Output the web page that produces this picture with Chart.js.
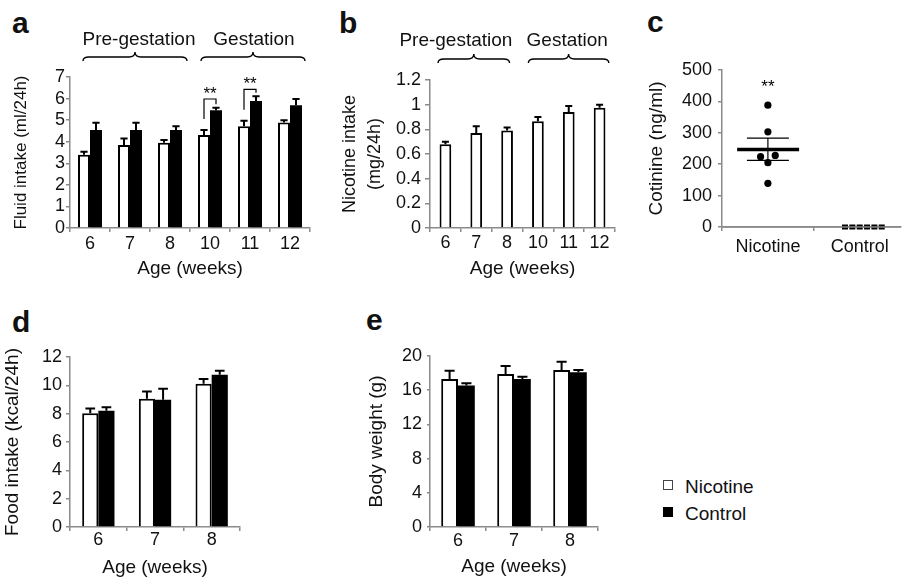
<!DOCTYPE html>
<html>
<head>
<meta charset="utf-8">
<script src="https://cdn.jsdelivr.net/npm/chart.js@4.4.1/dist/chart.umd.min.js"></script>
<style>
  body { margin: 0; background: #fff; width: 910px; height: 583px; position: relative; overflow: hidden;
         font-family: 'Liberation Sans', Arial, sans-serif; color: #111; }
  canvas { position: absolute; }
  .lab { position: absolute; font-weight: bold; font-size: 30px; line-height: 30px; }
  .leg { position: absolute; font-size: 19px; line-height: 19px; }
  .sw { position: absolute; width: 10px; height: 10px; box-sizing: border-box; border: 1px solid #444; }
</style>
</head>
<body>
<div class="lab" style="left:12px;top:8px">a</div>
<div class="lab" style="left:339px;top:8px">b</div>
<div class="lab" style="left:647px;top:7px">c</div>
<div class="lab" style="left:12px;top:307px">d</div>
<div class="lab" style="left:366px;top:305px">e</div>

<canvas id="cA" width="320" height="290" style="left:0;top:0"></canvas>
<canvas id="cB" width="290" height="290" style="left:330px;top:0"></canvas>
<canvas id="cC" width="280" height="290" style="left:630px;top:0"></canvas>
<canvas id="cD" width="250" height="293" style="left:0;top:290px"></canvas>
<canvas id="cE" width="280" height="293" style="left:330px;top:290px"></canvas>

<div class="sw" style="left:663px;top:480px;background:#fff"></div>
<div class="leg" style="left:685px;top:477px">Nicotine</div>
<div class="sw" style="left:663px;top:507px;background:#000;border-color:#000"></div>
<div class="leg" style="left:685px;top:504px">Control</div>

<script>
// ---- data ----
const weeks = ['6', '7', '8', '10', '11', '12'];
const weeksShort = ['6', '7', '8'];
const phases = ['Pre-gestation', 'Gestation'];

// a: fluid intake (ml/24h)
const fluidNic = [3.4, 3.85, 3.95, 4.31, 4.72, 4.89];
const fluidNicErr = [3.53, 4.15, 4.08, 4.54, 4.97, 5.0];
const fluidCon = [4.54, 4.54, 4.54, 5.46, 5.89, 5.69];
const fluidConErr = [4.88, 4.88, 4.72, 5.58, 6.11, 5.98];
const fluidSigIdx = [3, 4];
const fluidSigY = [5.98, 6.43];

// b: nicotine intake (mg/24h)
const nicIntake = [0.68, 0.77, 0.79, 0.865, 0.94, 0.975];
const nicIntakeErr = [0.70, 0.825, 0.815, 0.90, 0.99, 1.0];

// c: cotinine (ng/ml)
const cotGroups = ['Nicotine', 'Control'];
const cotNic = [388, 303, 224, 228, 205, 139];
const cotNicX = [1, 1, 0.92, 1.08, 1, 1];
const cotCon = [0, 0, 0, 0, 0, 0];
const cotConX = [1.84, 1.92, 2.0, 2.08, 2.16, 2.24];
const cotMean = 247;
const cotSemLo = 212;
const cotSemHi = 283;
const cotSigY = 462;

// d: food intake (kcal/24h)
const foodNic = [8.03, 9.05, 10.11];
const foodNicErr = [8.36, 9.57, 10.44];
const foodCon = [8.2, 8.98, 10.75];
const foodConErr = [8.46, 9.76, 11.03];

// e: body weight (g)
const bwNic = [17.3, 17.89, 18.36];
const bwNicErr = [18.28, 18.83, 19.34];
const bwCon = [16.56, 17.3, 18.09];
const bwConErr = [16.8, 17.58, 18.36];

// ---- style ----
const AX = '#8a8a8a';
const TXT = '#111';
Chart.defaults.font.family = "'Liberation Sans', Arial, sans-serif";
Chart.defaults.color = TXT;
Chart.defaults.animation = false;
Chart.defaults.plugins.legend.display = false;
Chart.defaults.plugins.tooltip.enabled = false;

function axes(o) {
  return {
    x: {
      grid: { drawOnChartArea: false, tickLength: 4, color: AX, lineWidth: 1.5 },
      border: { color: AX, width: 1.5 },
      ticks: { font: { size: 18, lineHeight: 1 }, color: TXT, padding: o.xPad, autoSkip: false, maxRotation: 0 },
      title: { display: !!o.xTitle, text: o.xTitle, font: { size: 19, lineHeight: 1.2 }, color: TXT,
               padding: { top: 0, bottom: o.xtPad } },
      afterFit: s => { s.height = o.xH; }
    },
    y: {
      min: 0, max: o.max,
      ticks: { stepSize: o.step, font: { size: 18 }, color: TXT, padding: o.yPad, autoSkip: false,
               callback: v => String(Math.round(v * 10) / 10) },
      grid: { drawOnChartArea: false, tickLength: o.yTick || 4, color: AX, lineWidth: 1.5 },
      border: { color: AX, width: 1.5 },
      title: { display: true, text: o.yTitle, font: { size: o.ytSize || 19, lineHeight: o.ytLh || 1.2 },
               color: TXT, padding: { top: o.ytPad, bottom: 0 } },
      afterFit: s => { s.width = o.yW; }
    }
  };
}

// one-sided error bars (upper) from dataset.errHi
const errorBars = {
  id: 'errorBars',
  afterDatasetsDraw(chart) {
    const { ctx } = chart;
    const y = chart.scales.y;
    chart.data.datasets.forEach((ds, i) => {
      if (!ds.errHi) return;
      chart.getDatasetMeta(i).data.forEach((bar, j) => {
        const top = y.getPixelForValue(ds.errHi[j]);
        const cap = bar.width * 0.3;
        ctx.save();
        ctx.strokeStyle = '#000';
        ctx.lineWidth = 2;
        ctx.beginPath();
        ctx.moveTo(bar.x, bar.y);
        ctx.lineTo(bar.x, top);
        ctx.moveTo(bar.x - cap, top);
        ctx.lineTo(bar.x + cap, top);
        ctx.stroke();
        ctx.restore();
      });
    });
  }
};

function drawBrace(ctx, x1, x2, y) {
  const xc = (x1 + x2) / 2, r = 6;
  ctx.beginPath();
  ctx.moveTo(x1, y + 4);
  ctx.quadraticCurveTo(x1, y, x1 + r, y);
  ctx.lineTo(xc - r, y);
  ctx.quadraticCurveTo(xc, y, xc, y - 5);
  ctx.quadraticCurveTo(xc, y, xc + r, y);
  ctx.lineTo(x2 - r, y);
  ctx.quadraticCurveTo(x2, y, x2, y + 4);
  ctx.stroke();
}

// braces with phase names above the bars; ranges in category units
function phasePlugin(ranges, textAt, braceY, textY) {
  return {
    id: 'phases',
    afterDraw(chart) {
      const { ctx } = chart;
      const x = chart.scales.x;
      ctx.save();
      ctx.strokeStyle = '#000';
      ctx.lineWidth = 1.4;
      ctx.fillStyle = TXT;
      ctx.font = "19px 'Liberation Sans', Arial, sans-serif";
      ctx.textAlign = 'center';
      ctx.textBaseline = 'alphabetic';
      phases.forEach((p, i) => {
        drawBrace(ctx, x.getPixelForValue(ranges[i][0]), x.getPixelForValue(ranges[i][1]), braceY);
        ctx.fillText(p, x.getPixelForValue(textAt[i]), textY);
      });
      ctx.restore();
    }
  };
}

// significance brackets for panel a
const sigPlugin = {
  id: 'sig',
  afterDatasetsDraw(chart) {
    const { ctx } = chart;
    const y = chart.scales.y;
    const m0 = chart.getDatasetMeta(0).data, m1 = chart.getDatasetMeta(1).data;
    ctx.save();
    ctx.strokeStyle = '#000';
    ctx.lineWidth = 1.2;
    ctx.fillStyle = '#000';
    ctx.font = "17px 'Liberation Sans', Arial, sans-serif";
    ctx.textAlign = 'center';
    fluidSigIdx.forEach((j, k) => {
      const xl = m0[j].x, xr = m1[j].x;
      const yt = y.getPixelForValue(fluidSigY[k]);
      const yl = y.getPixelForValue(fluidNicErr[j]) - 11;
      const yr = y.getPixelForValue(fluidConErr[j]) - 3.5;
      ctx.beginPath();
      ctx.moveTo(xl, yl); ctx.lineTo(xl, yt); ctx.lineTo(xr, yt); ctx.lineTo(xr, yr);
      ctx.stroke();
      ctx.fillText('**', (xl + xr) / 2, yt);
    });
    ctx.restore();
  }
};

// mean +/- SEM and stars for panel c
const meanSem = {
  id: 'meanSem',
  afterDatasetsDraw(chart) {
    const { ctx } = chart;
    const x = chart.scales.x, y = chart.scales.y;
    const xc = x.getPixelForValue(1);
    ctx.save();
    ctx.strokeStyle = '#000';
    ctx.lineWidth = 3.5;
    ctx.beginPath();
    ctx.moveTo(x.getPixelForValue(0.665), y.getPixelForValue(cotMean));
    ctx.lineTo(x.getPixelForValue(1.34), y.getPixelForValue(cotMean));
    ctx.stroke();
    ctx.lineWidth = 1.2;
    ctx.beginPath();
    ctx.moveTo(xc, y.getPixelForValue(cotSemLo));
    ctx.lineTo(xc, y.getPixelForValue(cotSemHi));
    [cotSemLo, cotSemHi].forEach(v => {
      ctx.moveTo(xc - 21, y.getPixelForValue(v));
      ctx.lineTo(xc + 21, y.getPixelForValue(v));
    });
    ctx.stroke();
    // axis line over the control dashes
    ctx.strokeStyle = AX;
    ctx.lineWidth = 1.5;
    ctx.beginPath();
    ctx.moveTo(chart.chartArea.left, y.getPixelForValue(0));
    ctx.lineTo(chart.chartArea.right, y.getPixelForValue(0));
    ctx.stroke();
    ctx.fillStyle = '#000';
    ctx.font = "17px 'Liberation Sans', Arial, sans-serif";
    ctx.textAlign = 'center';
    ctx.fillText('**', xc, y.getPixelForValue(cotSigY) + 10);
    ctx.restore();
  }
};

function pairBars(labels, nic, nicErr, con, conErr, catPct) {
  return {
    labels: labels,
    datasets: [
      { label: 'Nicotine', data: nic, errHi: nicErr, backgroundColor: '#fff', borderColor: '#000',
        borderWidth: 2, categoryPercentage: catPct, barPercentage: 1 },
      { label: 'Control', data: con, errHi: conErr, backgroundColor: '#000', borderColor: '#000',
        borderWidth: 0, categoryPercentage: catPct, barPercentage: 1 }
    ]
  };
}

// a
new Chart(document.getElementById('cA'), {
  type: 'bar',
  data: pairBars(weeks, fluidNic, fluidNicErr, fluidCon, fluidConErr, 0.6),
  options: {
    responsive: false,
    layout: { padding: { top: 77, right: 10, left: 0, bottom: 0 } },
    scales: axes({ max: 7, step: 1, yTitle: 'Fluid intake (ml/24h)', ytSize: 17, ytPad: 11, yW: 70, yPad: 1,
                   xTitle: 'Age (weeks)', xH: 62, xPad: 3, xtPad: 9.6 })
  },
  plugins: [errorBars, sigPlugin, phasePlugin([[-0.175, 2.425], [2.775, 5.375]], [1.225, 4.1], 57, 45)]
});

// b
new Chart(document.getElementById('cB'), {
  type: 'bar',
  data: {
    labels: weeks,
    datasets: [{ label: 'Nicotine', data: nicIntake, errHi: nicIntakeErr, backgroundColor: '#fff',
                 borderColor: '#000', borderWidth: 2, categoryPercentage: 0.38, barPercentage: 1 }]
  },
  options: {
    responsive: false,
    layout: { padding: { top: 80, right: 5, left: 0, bottom: 0 } },
    scales: axes({ max: 1.2, step: 0.2, yTitle: ['Nicotine intake', '(mg/24h)'], ytSize: 18, ytLh: 1.4, ytPad: 7,
                   yW: 100, yPad: 4, yTick: 5, xTitle: 'Age (weeks)', xH: 62, xPad: 2, xtPad: 9.6 })
  },
  plugins: [errorBars, phasePlugin([[-0.24, 2.08], [2.69, 5.3]], [0.34, 3.95], 59, 46)]
});

// c
const cScales = axes({ max: 500, step: 100, yTitle: 'Cotinine (ng/ml)', ytPad: 15, yW: 92, yPad: 6,
                       xH: 63, xPad: 7 });
cScales.x.type = 'linear';
cScales.x.min = 0.5;
cScales.x.max = 2.45;
cScales.x.grid.offset = true;
cScales.x.afterBuildTicks = s => { s.ticks = [{ value: 1 }, { value: 2 }]; };
cScales.x.ticks.callback = v => cotGroups[v - 1];
new Chart(document.getElementById('cC'), {
  type: 'scatter',
  data: {
    datasets: [
      { label: 'Nicotine', data: cotNicX.map((x, i) => ({ x: x, y: cotNic[i] })), pointRadius: 3.6,
        backgroundColor: '#000', borderWidth: 0, clip: false },
      { label: 'Control', data: cotConX.map((x, i) => ({ x: x, y: cotCon[i] })), pointStyle: 'line',
        pointRadius: 3, borderColor: '#000', borderWidth: 5, clip: false }
    ]
  },
  options: {
    responsive: false,
    layout: { padding: { top: 70, right: 0, left: 0, bottom: 0 } },
    scales: cScales
  },
  plugins: [meanSem]
});

// d
new Chart(document.getElementById('cD'), {
  type: 'bar',
  data: pairBars(weeksShort, foodNic, foodNicErr, foodCon, foodConErr, 0.57),
  options: {
    responsive: false,
    layout: { padding: { top: 67, right: 10, left: 0, bottom: 0 } },
    scales: axes({ max: 12, step: 2, yTitle: 'Food intake (kcal/24h)', ytPad: 1.6, yW: 70, yPad: 4,
                   xTitle: 'Age (weeks)', xH: 56, xPad: 0, xtPad: 3.6 })
  },
  plugins: [errorBars]
});

// e
new Chart(document.getElementById('cE'), {
  type: 'bar',
  data: pairBars(weeksShort, bwNic, bwNicErr, bwCon, bwConErr, 0.6),
  options: {
    responsive: false,
    layout: { padding: { top: 66, right: 12, left: 0, bottom: 0 } },
    scales: axes({ max: 20, step: 4, yTitle: 'Body weight (g)', ytPad: 35.6, yW: 100, yPad: 5, yTick: 3,
                   xTitle: 'Age (weeks)', xH: 56, xPad: 1, xtPad: 4.6 })
  },
  plugins: [errorBars]
});
</script>
</body>
</html>
